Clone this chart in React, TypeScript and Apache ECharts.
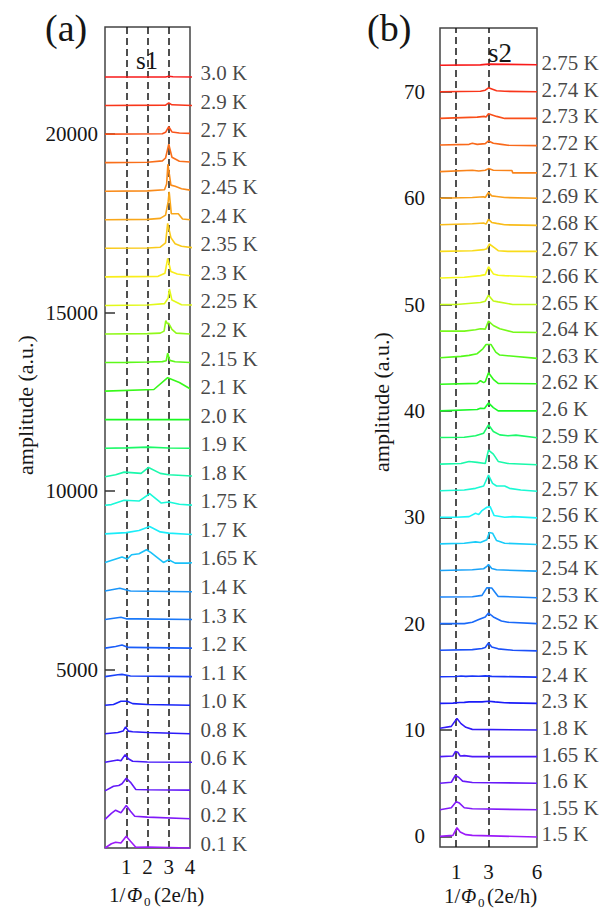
import React, { useEffect, useRef } from 'react';
import * as echarts from 'echarts';

// ---------- Panel (a) ----------
const labelsA = ['0.1 K', '0.2 K', '0.4 K', '0.6 K', '0.8 K', '1.0 K', '1.1 K', '1.2 K', '1.3 K', '1.4 K',
  '1.65 K', '1.7 K', '1.75 K', '1.8 K', '1.9 K', '2.0 K', '2.1 K', '2.15 K', '2.2 K', '2.25 K',
  '2.3 K', '2.35 K', '2.4 K', '2.45 K', '2.5 K', '2.7 K', '2.9 K', '3.0 K'];
// each profile: [x (1/Phi0), amplitude relative to its own baseline]
const profilesA: number[][][] = [
  [[0, 0], [0.3, 120], [0.5, 160], [0.75, 140], [1.0, 330], [1.2, 190], [1.45, 20], [2.0, 30], [4.0, 0]],
  [[0, 0], [0.3, 170], [0.5, 260], [0.75, 190], [1.0, 390], [1.2, 230], [1.4, 90], [2.0, 65], [4.0, 20]],
  [[0, 0], [0.4, 130], [0.65, 150], [0.8, 200], [1.0, 355], [1.2, 240], [1.45, 40], [2.0, 30], [4.0, 20]],
  [[0, 0], [0.4, 45], [0.6, 65], [0.75, 45], [0.95, 215], [1.1, 100], [1.3, 30], [2.0, 10], [4.2, 0]],
  [[0, 0], [0.6, 35], [0.85, 75], [0.97, 195], [1.1, 75], [1.3, 55], [2.0, 35], [4.0, 0]],
  [[0, 0], [0.4, 20], [0.75, 110], [1.05, 110], [1.3, 45], [2.0, 20], [4.0, 0]],
  [[0, 0], [0.6, 55], [0.8, 65], [1.2, 20], [4.1, 0]],
  [[0, 0], [0.5, 45], [0.8, 85], [1.1, 20], [4.1, 0]],
  [[0, 0], [0.75, 65], [1.0, 20], [1.5, 20], [4.1, 0]],
  [[0, 0], [0.7, 75], [1.2, 0], [4.1, -20]],
  [[0, 0], [0.8, 150], [1.05, 95], [1.25, 215], [1.6, 245], [1.95, 355], [2.15, 280], [2.75, 0], [3.0, 75], [3.3, -20], [3.9, -20], [4.2, 0]],
  [[0, 0], [1.0, 35], [1.6, 95], [2.1, 205], [2.6, 55], [3.0, 20], [4.2, -20]],
  [[0, 0], [0.3, 20], [0.9, 140], [1.6, 120], [2.1, 325], [2.65, 65], [3.0, 95], [3.5, 30], [4.2, 0]],
  [[0, 0], [0.5, 55], [0.9, 130], [1.7, 95], [2.05, 260], [2.6, 95], [3.0, 55], [4.2, 20]],
  [[0, 0], [1.0, 10], [2.0, 30], [3.0, 5], [4.0, 0]],
  [[0, 0], [2.0, 5], [4.0, 0]],
  [[0, 0], [2.3, 45], [2.95, 375], [3.5, 240], [4.0, 65]],
  [[0, 0], [1.0, 5], [2.0, 15], [2.7, 25], [2.88, 50], [2.95, 260], [3.05, 60], [3.3, 20], [4.0, 0]],
  [[0, 0], [2.0, 10], [2.6, 25], [2.78, 80], [2.86, 375], [2.93, 290], [3.0, 300], [3.15, 130], [3.35, 25], [4.0, 0]],
  [[0, 0], [2.0, 10], [2.8, 50], [2.97, 200], [3.03, 460], [3.15, 150], [3.6, 20], [4.1, 10]],
  [[0, 0], [2.5, 15], [2.82, 100], [2.95, 520], [3.1, 150], [3.4, 80], [4.0, 30]],
  [[0, 0], [2.0, 10], [2.6, 30], [2.85, 150], [2.95, 700], [3.1, 300], [3.3, 130], [3.6, 60], [4.1, 20]],
  [[0, 0], [2.0, 10], [2.6, 40], [2.85, 130], [2.97, 500], [3.02, 785], [3.12, 170], [3.45, 170], [3.65, 20], [4.0, 0]],
  [[0, 0], [2.0, 10], [2.8, 40], [2.9, 200], [2.96, 757], [3.1, 170], [3.3, 140], [3.6, 70], [4.0, 30]],
  [[0, 0], [2.0, 10], [2.7, 50], [2.85, 130], [3.0, 515], [3.15, 150], [3.5, 40], [4.0, 20]],
  [[0, 0], [2.7, 10], [2.85, 50], [3.0, 205], [3.15, 60], [3.5, 30], [4.0, 20]],
  [[0, 0], [2.85, 10], [3.0, 75], [3.15, 20], [4.1, 0]],
  [[0, 0], [2.85, 0], [3.0, 20], [3.2, 5], [4.1, 0]],
];
const offsetStepA = 800;
const yTicksA = [5000, 10000, 15000, 20000];
const xTicksA = [1, 2, 3, 4];
const dashedA = [1, 2, 3];

// ---------- Panel (b) ----------
const labelsB = ['1.5 K', '1.55 K', '1.6 K', '1.65 K', '1.8 K', '2.3 K', '2.4 K', '2.5 K', '2.52 K', '2.53 K',
  '2.54 K', '2.55 K', '2.56 K', '2.57 K', '2.58 K', '2.59 K', '2.6 K', '2.62 K', '2.63 K', '2.64 K',
  '2.65 K', '2.66 K', '2.67 K', '2.68 K', '2.69 K', '2.71 K', '2.72 K', '2.73 K', '2.74 K', '2.75 K'];
const profilesB: number[][][] = [
  [[0, 0], [0.8, 0.09], [1.05, 0.81], [1.25, 0.41], [1.6, 0.16], [2.0, 0.09], [6, -0.06]],
  [[0, 0], [0.7, 0.19], [1.0, 0.75], [1.2, 0.63], [1.5, 0.19], [2.0, 0.09], [6, 0]],
  [[0, 0], [0.7, 0.09], [0.95, 0.72], [1.15, 0.56], [1.4, 0.19], [2.0, 0.06], [6, 0]],
  [[0, 0], [0.8, 0.06], [0.95, 0.47], [1.1, 0.41], [1.25, 0.06], [1.5, 0.09], [2.0, 0], [6, 0]],
  [[0, 0.16], [0.7, 0.34], [1.05, 1.09], [1.3, 0.6], [1.6, 0.25], [2.0, 0.06], [6, 0]],
  [[0, 0], [0.8, 0.03], [1.2, 0.08], [1.5, 0.1], [1.8, 0.14], [2.2, 0.16], [2.6, 0.14], [3.0, 0.2], [3.4, 0.14], [4.0, 0.06], [6, 0]],
  [[0, 0], [1.0, 0.03], [1.3, 0.08], [1.6, 0.04], [2.0, 0.08], [2.4, 0.05], [2.8, 0.09], [3.2, 0.04], [4.0, 0.02], [6, -0.03]],
  [[0, 0], [2.0, 0.06], [2.6, 0.16], [2.8, 0.25], [3.0, 0.69], [3.2, 0.31], [3.6, 0.13], [4.5, 0], [6, -0.06]],
  [[0, 0], [1.5, 0], [2.0, 0.13], [2.4, 0.38], [2.8, 0.63], [3.0, 1.0], [3.3, 0.63], [3.8, 0.25], [4.2, 0.13], [6, 0]],
  [[0, 0], [2.0, 0.03], [2.6, 0.16], [2.9, 0.88], [3.2, 0.85], [3.6, 0.06], [6, -0.06]],
  [[0, 0], [2.0, 0.06], [2.7, 0.16], [2.9, 0.38], [3.0, 0.56], [3.2, 0.19], [3.5, 0.06], [6, -0.06]],
  [[0, 0], [1.5, 0.06], [2.2, 0.19], [2.5, 0.13], [2.9, 0.38], [3.05, 1.06], [3.25, 1.0], [3.5, 0.31], [4.0, 0.06], [6, -0.06]],
  [[0, 0], [1.0, 0], [1.8, 0.06], [2.2, 0.38], [2.4, 0.25], [2.6, 0.63], [2.9, 0.94], [3.1, 1.0], [3.35, 0.16], [4.0, 0], [4.5, 0.06], [6, -0.06]],
  [[0, 0], [1.5, 0.06], [2.2, 0.22], [2.7, 0.44], [3.0, 1.47], [3.25, 0.69], [3.5, 0.44], [4.0, 0.44], [4.3, 0.22], [5.0, 0.06], [6, -0.06]],
  [[0, 0], [1.3, 0.06], [1.8, 0.25], [2.3, 0.16], [2.8, 0.06], [3.0, 1.31], [3.3, 0.94], [3.6, 0.25], [4.2, 0.06], [6, -0.06]],
  [[0, 0], [1.5, 0.03], [2.2, 0.16], [2.7, 0.41], [3.0, 1.19], [3.3, 0.56], [3.7, 0.25], [4.2, 0.16], [4.7, 0.22], [6, -0.03]],
  [[0, 0], [2.3, 0.13], [2.5, 0.25], [2.75, 0.22], [3.0, 0.75], [3.3, 0.31], [3.6, 0], [6, 0]],
  [[0, 0], [2.3, 0.09], [2.5, 0.34], [2.7, 0.16], [2.8, 0.25], [3.0, 1.09], [3.3, 0.47], [3.6, 0.09], [6, 0.06]],
  [[0, 0], [1.3, 0.13], [1.8, 0.22], [2.3, 0.38], [2.65, 0.84], [2.85, 1.25], [3.15, 1.25], [3.45, 0.53], [3.7, 0.25], [6, -0.06]],
  [[0, 0], [1.5, 0], [2.2, 0.13], [2.5, 0.22], [2.8, 0.19], [3.0, 0.94], [3.3, 0.53], [3.7, 0.22], [4.5, -0.09], [6, -0.13]],
  [[0, 0], [1.0, 0], [2.5, 0.19], [2.8, 0.31], [3.0, 0.88], [3.3, 0.34], [3.6, 0.25], [4.5, 0], [6, 0]],
  [[0, 0], [1.5, 0.06], [2.5, 0.22], [2.8, 0.31], [3.0, 1.06], [3.3, 0.38], [3.6, 0.25], [4.0, 0.22], [6, 0.09]],
  [[0, 0], [2.0, 0.06], [2.7, 0.16], [2.9, 0.25], [3.05, 0.69], [3.4, 0.31], [3.6, 0.06], [4.2, 0], [6, 0]],
  [[0, 0], [2.0, 0.09], [2.7, 0.16], [2.85, 0.06], [3.0, 0.5], [3.2, 0.22], [3.5, 0.13], [4.0, 0], [6, -0.06]],
  [[0, 0], [2.0, 0.06], [2.7, 0.13], [2.8, 0.06], [3.0, 0.53], [3.2, 0.22], [3.5, 0.16], [4.0, 0.06], [6, 0]],
  [[0, 0], [2.0, 0.13], [2.4, 0.06], [2.8, 0.13], [3.0, 0.28], [3.3, 0.13], [4.45, 0.1], [4.5, -0.12], [6, -0.12]],
  [[0, 0], [1.8, 0.06], [2.0, 0.16], [2.3, 0.06], [2.8, 0.13], [3.0, 0.38], [3.3, 0.16], [3.8, 0.06], [4.2, -0.03], [6, -0.06]],
  [[0, 0], [2.3, 0.12], [2.75, 0.19], [2.85, 0.13], [3.0, 0.44], [3.5, 0.19], [4.0, 0], [6, 0]],
  [[0, 0], [2.5, 0.05], [2.8, 0.15], [3.0, 0.38], [3.5, 0.1], [4.0, 0.05], [6, 0]],
  [[0, 0], [2.5, 0.03], [3.0, 0.1], [6, 0.05]],
];
const offsetStepB = 2.5;
const yTicksB = [0, 10, 20, 30, 40, 50, 60, 70];
const xTicksB = [1, 3, 6];
const dashedB = [1, 3];

const FONT = '"Liberation Serif", "Times New Roman", serif';
const INK = '#161616';

// colour map stops (fraction of stack height -> hue), purple at the bottom to red at the top
const HUE_STOPS: number[][] = [[0, 275], [0.17, 240], [0.333, 207], [0.48, 160], [0.556, 122], [0.655, 95], [0.704, 66], [0.815, 38], [1, 0]];

function traceColor(i: number, n: number) {
  const t = i / (n - 1);
  let h = 0;
  for (let k = 0; k < HUE_STOPS.length - 1; k++) {
    const [t0, h0] = HUE_STOPS[k];
    const [t1, h1] = HUE_STOPS[k + 1];
    if (t >= t0 && t <= t1) {
      h = h0 + ((t - t0) / (t1 - t0)) * (h1 - h0);
      break;
    }
  }
  return `hsl(${h.toFixed(1)}, 95%, 54%)`;
}

function buildPanel(
  gridIndex: number,
  labels: string[],
  profiles: number[][][],
  step: number,
  dashed: number[],
  labelX: number,
  labelDy: number
) {
  const n = profiles.length;
  const series: any[] = profiles.map((prof, i) => ({
    type: 'line',
    xAxisIndex: gridIndex,
    yAxisIndex: gridIndex,
    data: prof.map(([x, dy]) => [x, i * step + dy]),
    showSymbol: false,
    symbol: 'none',
    clip: false,
    silent: true,
    z: 3,
    lineStyle: { width: 1.6, color: traceColor(i, n) },
    markLine:
      i === 0
        ? {
            silent: true,
            symbol: ['none', 'none'],
            label: { show: false },
            lineStyle: { type: [7, 4], color: INK, width: 1.5 },
            data: dashed.map((x) => ({ xAxis: x })),
            z: 2,
          }
        : undefined,
  }));
  series.push({
    type: 'scatter',
    xAxisIndex: gridIndex,
    yAxisIndex: gridIndex,
    clip: false,
    silent: true,
    symbolSize: 1,
    itemStyle: { color: 'rgba(0,0,0,0)' },
    data: labels.map((_, i) => [labelX, i * step]),
    label: {
      show: true,
      position: 'right',
      distance: 0,
      offset: [0, labelDy],
      formatter: (p: any) => labels[p.dataIndex],
      fontFamily: FONT,
      fontSize: 21,
      color: INK,
    },
  });
  return series;
}

export default function App() {
  const ref = useRef<HTMLDivElement>(null);
  useEffect(() => {
    if (!ref.current) return;
    const chart = echarts.init(ref.current, undefined, { renderer: 'svg' });
    const axisLabelBase = { fontFamily: FONT, fontSize: 21, color: INK, formatter: (v: number) => String(v) };
    const option: any = {
      animation: false,
      backgroundColor: '#ffffff',
      grid: [
        { left: 105, top: 27, width: 85, height: 821, show: true, borderColor: '#444', borderWidth: 1.5, backgroundColor: 'transparent' },
        { left: 440, top: 28, width: 97, height: 819, show: true, borderColor: '#444', borderWidth: 1.5, backgroundColor: 'transparent' },
      ],
      xAxis: [
        {
          type: 'value', gridIndex: 0, min: 0, max: 4,
          axisLine: { show: false }, axisTick: { show: false }, splitLine: { show: false },
          axisLabel: { ...axisLabelBase, margin: 8, customValues: xTicksA },
        },
        {
          type: 'value', gridIndex: 1, min: 0, max: 6,
          axisLine: { show: false }, axisTick: { show: false }, splitLine: { show: false },
          axisLabel: { ...axisLabelBase, margin: 14, customValues: xTicksB },
        },
      ],
      yAxis: [
        {
          type: 'value', gridIndex: 0, min: 0, max: 23000,
          axisLine: { show: false }, splitLine: { show: false },
          axisTick: { show: true, inside: true, length: 10, lineStyle: { color: '#333', width: 1.5 }, customValues: yTicksA },
          axisLabel: { ...axisLabelBase, margin: 7, customValues: yTicksA },
        },
        {
          type: 'value', gridIndex: 1, min: -1, max: 76,
          axisLine: { show: false }, splitLine: { show: false },
          axisTick: { show: true, inside: true, length: 12, lineStyle: { color: '#333', width: 1.5 }, customValues: yTicksB },
          axisLabel: { ...axisLabelBase, margin: 15, customValues: yTicksB },
        },
      ],
      series: [
        ...buildPanel(0, labelsA, profilesA, offsetStepA, dashedA, 4.47, -4),
        ...buildPanel(1, labelsB, profilesB, offsetStepB, dashedB, 6.25, -2),
      ],
      graphic: [
        { type: 'text', left: 45, top: 9, style: { text: '(a)', font: `38px ${FONT}`, fill: INK } },
        { type: 'text', left: 367, top: 9, style: { text: '(b)', font: `38px ${FONT}`, fill: INK } },
        { type: 'text', x: 147, y: 60, style: { text: 's1', font: `25px ${FONT}`, fill: INK, align: 'center', verticalAlign: 'middle' } },
        { type: 'text', x: 500, y: 53, style: { text: 's2', font: `27px ${FONT}`, fill: INK, align: 'center', verticalAlign: 'middle' } },
        { type: 'text', x: 25, y: 405, rotation: Math.PI / 2, style: { text: 'amplitude (a.u.)', font: `22px ${FONT}`, fill: INK, align: 'center', verticalAlign: 'middle' } },
        { type: 'text', x: 381, y: 402, rotation: Math.PI / 2, style: { text: 'amplitude (a.u.)', font: `22px ${FONT}`, fill: INK, align: 'center', verticalAlign: 'middle' } },
        // x-axis name (a)
        { type: 'text', x: 109, y: 895, style: { text: '1/', font: `21px ${FONT}`, fill: INK, verticalAlign: 'middle' } },
        { type: 'text', x: 127, y: 895, style: { text: 'Φ', font: `italic 20px ${FONT}`, fill: INK, verticalAlign: 'middle' } },
        { type: 'text', x: 144, y: 901, style: { text: '0', font: `13px ${FONT}`, fill: INK, verticalAlign: 'middle' } },
        { type: 'text', x: 154, y: 895, style: { text: '(2e/h)', font: `21px ${FONT}`, fill: INK, verticalAlign: 'middle' } },
        // x-axis name (b)
        { type: 'text', x: 444, y: 896, style: { text: '1/', font: `21px ${FONT}`, fill: INK, verticalAlign: 'middle' } },
        { type: 'text', x: 461, y: 896, style: { text: 'Φ', font: `italic 20px ${FONT}`, fill: INK, verticalAlign: 'middle' } },
        { type: 'text', x: 478, y: 902, style: { text: '0', font: `13px ${FONT}`, fill: INK, verticalAlign: 'middle' } },
        { type: 'text', x: 487, y: 896, style: { text: '(2e/h)', font: `21px ${FONT}`, fill: INK, verticalAlign: 'middle' } },
      ],
    };
    chart.setOption(option);
    return () => chart.dispose();
  }, []);
  return <div ref={ref} style={{ position: 'fixed', left: 0, top: 0, width: 603, height: 911, background: '#fff' }} />;
}
